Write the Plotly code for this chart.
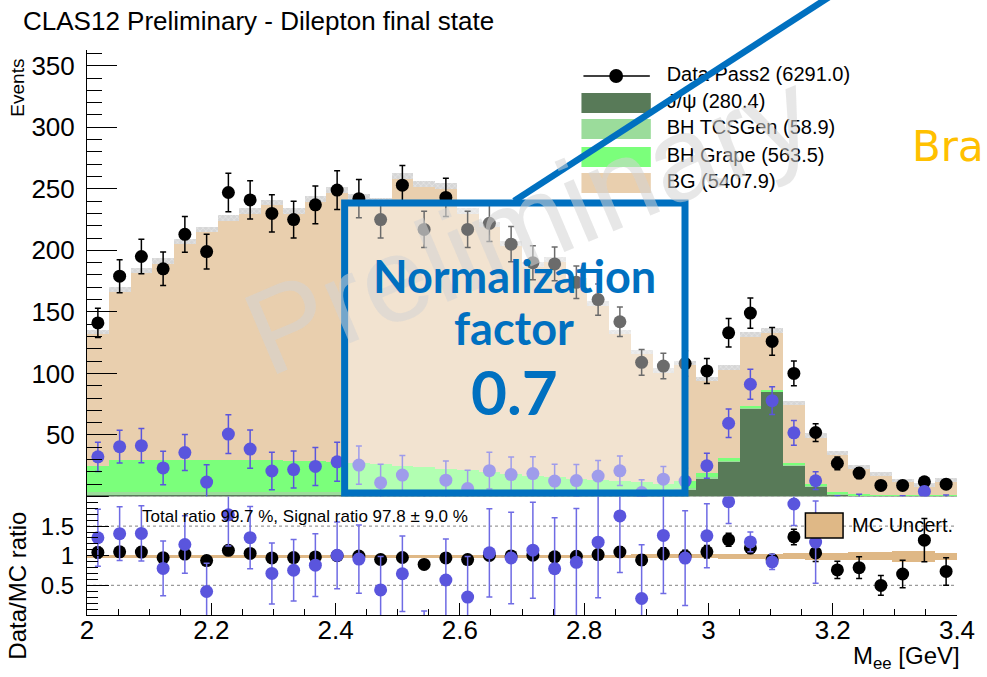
import numpy as np
import plotly.graph_objects as go

# ---- binning: 40 bins of 35 MeV between 2.0 and 3.4 GeV ----
edges = np.linspace(2.0, 3.4, 41)
centers = 0.5 * (edges[:-1] + edges[1:])
bin_w = edges[1] - edges[0]

# ---- event counts per bin ----
data_counts = [141, 179, 195, 185, 213, 199, 247, 241, 230, 225,
               237, 249, 242, 225, 253, 217, 243, 217, 222, 205,
               190, 189, 174, 160, 142, 109, 106, 108, 102, 133,
               149, 126, 100, 52, 27, 19, 9, 9, 12, 10]

jpsi = [1.0, 1.1, 1.1, 1.2, 1.2, 1.1, 1.2, 1.3, 1.2, 1.3,
        1.3, 1.2, 1.3, 1.3, 1.2, 1.3, 1.3, 1.2, 1.3, 1.3,
        1.4, 1.4, 1.5, 1.5, 1.6, 1.8, 2.2, 6.0, 15.0, 28.5,
        71.8, 85.0, 25.5, 8.0, 2.0, 0.8, 0.5, 0.5, 0.5, 0.5]

bh_tcsgen = [2.8, 2.9, 2.9, 2.8, 2.8, 2.7, 2.7, 2.6, 2.6, 2.5,
             2.5, 2.2, 2.1, 2.0, 1.9, 1.8, 1.7, 1.6, 1.5, 1.4,
             1.3, 1.2, 1.1, 1.0, 1.0, 0.9, 0.9, 0.8, 0.7, 0.6,
             0.6, 0.5, 0.5, 0.4, 0.3, 0.3, 0.2, 0.2, 0.2, 0.2]

bh_grape = [20.9, 25.5, 26.0, 25.5, 26.0, 25.7, 26.1, 25.6, 25.7, 25.2,
            25.2, 24.6, 23.6, 23.2, 21.9, 20.9, 19.5, 18.7, 17.2, 15.8,
            14.3, 13.4, 11.9, 11.0, 9.9, 8.8, 7.4, 6.2, 3.0, 2.0,
            1.5, 1.4, 1.6, 2.0, 1.6, 1.1, 0.9, 0.9, 0.9, 0.9]

bg = [108.8, 138.5, 153.7, 161.8, 177.3, 187.3, 196.3, 202.5, 209.3, 203.1,
      212.6, 220.8, 216.5, 213.8, 235.6, 230.1, 229.7, 210.5, 201.0, 187.2,
      171.4, 176.5, 161.1, 143.4, 121.1, 105.8, 91.9, 95.5, 77.0, 73.5,
      57.8, 48.1, 48.3, 39.2, 31.6, 21.6, 16.4, 11.4, 7.9, 12.0]

# absolute MC statistical error on the stack (upper pad)
mc_stat_err = [1.8, 2.0, 2.1, 2.1, 2.2, 2.2, 2.3, 2.3, 2.3, 2.3,
               2.3, 2.4, 2.3, 2.3, 2.4, 2.4, 2.4, 2.3, 2.3, 2.2,
               2.2, 2.2, 2.1, 2.0, 1.9, 1.8, 1.8, 1.8, 1.8, 1.9,
               2.0, 2.1, 1.9, 1.8, 1.8, 1.7, 1.7, 1.6, 1.6, 1.6]

# relative MC uncertainty drawn around 1 in the ratio pad
mc_rel_unc = [0.024, 0.023, 0.023, 0.023, 0.022, 0.022, 0.022, 0.022, 0.022, 0.022,
              0.022, 0.022, 0.022, 0.022, 0.022, 0.022, 0.022, 0.023, 0.023, 0.024,
              0.024, 0.025, 0.026, 0.027, 0.028, 0.030, 0.032, 0.034, 0.036, 0.040,
              0.042, 0.044, 0.050, 0.055, 0.060, 0.065, 0.070, 0.090, 0.090, 0.055]

x_ticks = [2.0, 2.2, 2.4, 2.6, 2.8, 3.0, 3.2, 3.4]
x_tick_text = ["2", "2.2", "2.4", "2.6", "2.8", "3", "3.2", "3.4"]
y_ticks = [50, 100, 150, 200, 250, 300, 350]
ratio_ticks = [0.5, 1.0, 1.5]
ratio_tick_text = ["0.5", "1", "1.5"]

# ---- derived quantities ----
d = np.array(data_counts, dtype=float)
a_jpsi = np.array(jpsi)
a_tcs = np.array(bh_tcsgen)
a_grape = np.array(bh_grape)
a_bg = np.array(bg)
mc_total = a_bg + a_grape + a_tcs + a_jpsi
sig_mc = a_grape + a_tcs + a_jpsi
err_d = np.sqrt(d)

signal = d - a_bg                       # data minus background
ratio = d / mc_total
ratio_err = err_d / mc_total
sig_mask = sig_mc >= 5.0
sig_ratio = np.where(sig_mask, signal / sig_mc, np.nan)
sig_ratio_err = np.where(sig_mask, err_d / sig_mc, np.nan)
stat_err = np.array(mc_stat_err)
rel_unc = np.array(mc_rel_unc)

# ---- canvas geometry (pixels) ----
W, H = 987, 677
L, R, T, B = 87, 22, 50, 62
PW, PH = W - L - R, H - T - B
SPLIT_PX = 496.5
YMAX = 362.8


def fx(px):
    return (px - L) / PW


def fy(py):
    return (H - B - py) / PH


def gx(px):
    return 2.0 + (px - L) / PW * 1.4


def gy(py):
    return (SPLIT_PX - py) / (SPLIT_PX - T) * YMAX


split = fy(SPLIT_PX)

FONT = "Liberation Sans, Arial, Helvetica, sans-serif"
C_JPSI = "#587a58"
C_TCS = "#9bdc9b"
C_GRAPE = "#7bff7b"
C_BG = "#e9cfae"
C_SIG = "#5a55dd"
C_UNC = "#dfb886"
BLUE = "#0070c0"

fig = go.Figure()

# stacked MC
for name, vals, col in [("J/ψ", jpsi, C_JPSI), ("BH TCSGen", bh_tcsgen, C_TCS),
                        ("BH Grape", bh_grape, C_GRAPE), ("BG", bg, C_BG)]:
    fig.add_trace(go.Bar(x=centers, y=vals, width=bin_w, name=name,
                         marker=dict(color=col, line=dict(width=0)),
                         xaxis="x", yaxis="y", showlegend=False, hoverinfo="skip"))

# MC stat band on top of the stack
fig.add_trace(go.Bar(x=centers, y=2 * stat_err, base=mc_total - stat_err, width=bin_w,
                     marker=dict(color="#d6d6d6", line=dict(width=0),
                                 pattern=dict(shape="x", fgcolor="#f4f4f4", size=4, solidity=0.35)),
                     xaxis="x", yaxis="y", showlegend=False, hoverinfo="skip"))

# data and background-subtracted data
fig.add_trace(go.Scatter(x=centers, y=d, mode="markers",
                         marker=dict(color="black", size=13),
                         error_y=dict(type="data", array=err_d, color="black", thickness=1.5, width=3),
                         xaxis="x", yaxis="y", showlegend=False))
fig.add_trace(go.Scatter(x=centers, y=signal, mode="markers",
                         marker=dict(color=C_SIG, size=13),
                         error_y=dict(type="data", array=err_d, color=C_SIG, thickness=1.5, width=3),
                         xaxis="x", yaxis="y", showlegend=False))

# ratio pad
fig.add_trace(go.Bar(x=centers, y=2 * rel_unc, base=1 - rel_unc, width=bin_w,
                     marker=dict(color=C_UNC, line=dict(width=0)),
                     xaxis="x2", yaxis="y2", showlegend=False, hoverinfo="skip"))
fig.add_trace(go.Scatter(x=centers, y=ratio, mode="markers",
                         marker=dict(color="black", size=13),
                         error_y=dict(type="data", array=ratio_err, color="black", thickness=1.5, width=3),
                         xaxis="x2", yaxis="y2", showlegend=False))
fig.add_trace(go.Scatter(x=centers, y=sig_ratio, mode="markers",
                         marker=dict(color=C_SIG, size=13),
                         error_y=dict(type="data", array=sig_ratio_err, color="#6f6be4", thickness=1.5, width=3),
                         xaxis="x2", yaxis="y2", showlegend=False))

# legend labels (drawn as text so the arrow line can cross them)
leg_rows = [76, 103, 129, 157, 183]
leg_labels = [f"Data Pass2 ({d.sum():.1f})", f"J/ψ ({a_jpsi.sum():.1f})",
              f"BH TCSGen ({a_tcs.sum():.1f})", f"BH Grape ({a_grape.sum():.1f})",
              f"BG ({a_bg.sum():.1f})"]
fig.add_trace(go.Scatter(x=[gx(672)] * 5, y=[gy(r) for r in leg_rows], mode="text",
                         text=leg_labels, textposition="middle right",
                         textfont=dict(family=FONT, size=20, color="black"),
                         cliponaxis=False, xaxis="x", yaxis="y", showlegend=False, hoverinfo="skip"))

shapes = []
# dotted reference lines in ratio pad
for yv in (0.5, 1.5, 2.0):
    shapes.append(dict(type="line", xref="x2", yref="y2", x0=2.0, x1=3.4, y0=yv, y1=yv,
                       line=dict(color="#9a9a9a", width=1.2, dash="dot"), layer="below"))
# major tick at the top of the ratio axis
shapes.append(dict(type="line", xref="paper", yref="paper", x0=0, x1=fx(L + 22),
                   y0=split, y1=split, line=dict(color="black", width=1), layer="above"))
# legend symbols
shapes.append(dict(type="line", xref="paper", yref="paper", x0=fx(588), x1=fx(655),
                   y0=fy(leg_rows[0]), y1=fy(leg_rows[0]), line=dict(color="black", width=1.5), layer="above"))
shapes.append(dict(type="circle", xref="paper", yref="paper", x0=fx(614), x1=fx(628),
                   y0=fy(leg_rows[0] + 7), y1=fy(leg_rows[0] - 7),
                   fillcolor="black", line=dict(width=0), layer="above"))
for r, col in zip(leg_rows[1:], [C_JPSI, C_TCS, C_GRAPE, C_BG]):
    shapes.append(dict(type="rect", xref="paper", yref="paper", x0=fx(586), x1=fx(656),
                       y0=fy(r + 10), y1=fy(r - 10), fillcolor=col, line=dict(width=0), layer="above"))
# ratio pad legend box
shapes.append(dict(type="rect", xref="paper", yref="paper", x0=fx(812), x1=fx(850),
                   y0=fy(538), y1=fy(513), fillcolor=C_UNC, line=dict(color="black", width=1.5),
                   layer="above"))
# highlighted normalisation box with its pointer
shapes.append(dict(type="rect", xref="paper", yref="paper", x0=fx(347), x1=fx(690.5),
                   y0=fy(493), y1=fy(203), fillcolor="rgba(255,255,255,0.42)",
                   line=dict(color=BLUE, width=7), layer="above"))
shapes.append(dict(type="line", xref="paper", yref="paper", x0=fx(518), y0=fy(201),
                   x1=fx(836), y1=fy(-3), line=dict(color=BLUE, width=6.5), layer="above"))

annotations = [
    dict(text="CLAS12 Preliminary - Dilepton final state", x=fx(20), y=fy(21),
         xanchor="left", yanchor="middle", font=dict(family=FONT, size=26, color="black")),
    dict(text="Events", x=fx(17), y=fy(88), textangle=-90, xanchor="center", yanchor="middle",
         font=dict(family=FONT, size=19, color="black")),
    dict(text="Data/MC ratio", x=fx(16), y=fy(586), textangle=-90, xanchor="center", yanchor="middle",
         font=dict(family=FONT, size=24, color="black")),
    dict(text="M<sub>ee</sub> [GeV]", x=fx(970), y=fy(657), xanchor="right", yanchor="middle",
         font=dict(family=FONT, size=24, color="black")),
    dict(text="Total ratio 99.7 %, Signal ratio 97.8 ± 9.0 %", x=fx(140), y=fy(516),
         xanchor="left", yanchor="middle", font=dict(family=FONT, size=17, color="black")),
    dict(text="MC Uncert.", x=fx(857), y=fy(525), xanchor="left", yanchor="middle",
         font=dict(family=FONT, size=20, color="black")),
    dict(text="Preliminary", x=fx(532), y=fy(222), textangle=-23, xanchor="center", yanchor="middle",
         font=dict(family=FONT, size=120, color="rgba(212,212,212,0.55)")),
    dict(text="<b>Normalization</b>", x=fx(518), y=fy(276), xanchor="center", yanchor="middle",
         font=dict(family="Lato, sans-serif", size=45, color=BLUE)),
    dict(text="<b>factor</b>", x=fx(518), y=fy(328), xanchor="center", yanchor="middle",
         font=dict(family="Lato, sans-serif", size=45, color=BLUE)),
    dict(text="<b>0.7</b>", x=fx(518), y=fy(391), xanchor="center", yanchor="middle",
         font=dict(family="Lato, sans-serif", size=62, color=BLUE)),
    dict(text="Bra", x=fx(918), y=fy(147), xanchor="left", yanchor="middle",
         font=dict(family="DejaVu Sans, sans-serif", size=42, color="#ffc000")),
]
for a in annotations:
    a.update(xref="paper", yref="paper", showarrow=False)

fig.update_layout(
    width=W, height=H, autosize=False,
    margin=dict(l=L, r=R, t=T, b=B, pad=0),
    paper_bgcolor="white", plot_bgcolor="rgba(0,0,0,0)",
    barmode="stack", bargap=0,
    showlegend=False,
    shapes=shapes, annotations=annotations,
    xaxis=dict(domain=[0, 1], range=[2.0, 3.4], anchor="y", matches="x2",
               showticklabels=False, ticks="", showline=False, showgrid=False, zeroline=False),
    yaxis=dict(domain=[split, 1], range=[0, YMAX], anchor="x",
               tickmode="array", tickvals=y_ticks, ticks="inside", ticklen=30, tickwidth=1,
               tickcolor="black", showline=True, linecolor="black", linewidth=1,
               minor=dict(ticks="inside", ticklen=15, tickcolor="black", tickwidth=1,
                          tickvals=[v for v in range(10, 361, 10) if v % 50]),
               tickfont=dict(family=FONT, size=26, color="black"), ticklabelstandoff=6,
               showgrid=False, zeroline=False),
    xaxis2=dict(domain=[0, 1], range=[2.0, 3.4], anchor="y2",
                tickmode="array", tickvals=x_ticks, ticktext=x_tick_text,
                ticks="inside", ticklen=12, tickwidth=1, tickcolor="black",
                minor=dict(ticks="inside", ticklen=6, tickcolor="black", tickwidth=1,
                           tickvals=[round(2.0 + 0.05 * i, 2) for i in range(29)]),
                showline=True, linecolor="black", linewidth=1,
                tickfont=dict(family=FONT, size=26, color="black"), ticklabelstandoff=-8,
                showgrid=False, zeroline=False),
    yaxis2=dict(domain=[0, split], range=[0, 2.0], anchor="x2",
                tickmode="array", tickvals=ratio_ticks, ticktext=ratio_tick_text,
                ticks="inside", ticklen=22, tickwidth=1, tickcolor="black",
                minor=dict(ticks="inside", ticklen=11, tickcolor="black", tickwidth=1,
                           tickvals=[round(0.1 * i, 1) for i in range(1, 20) if i % 5]),
                showline=True, linecolor="black", linewidth=1,
                tickfont=dict(family=FONT, size=24, color="black"), ticklabelstandoff=7,
                showgrid=False, zeroline=False),
)

fig.write_html("out.html")
